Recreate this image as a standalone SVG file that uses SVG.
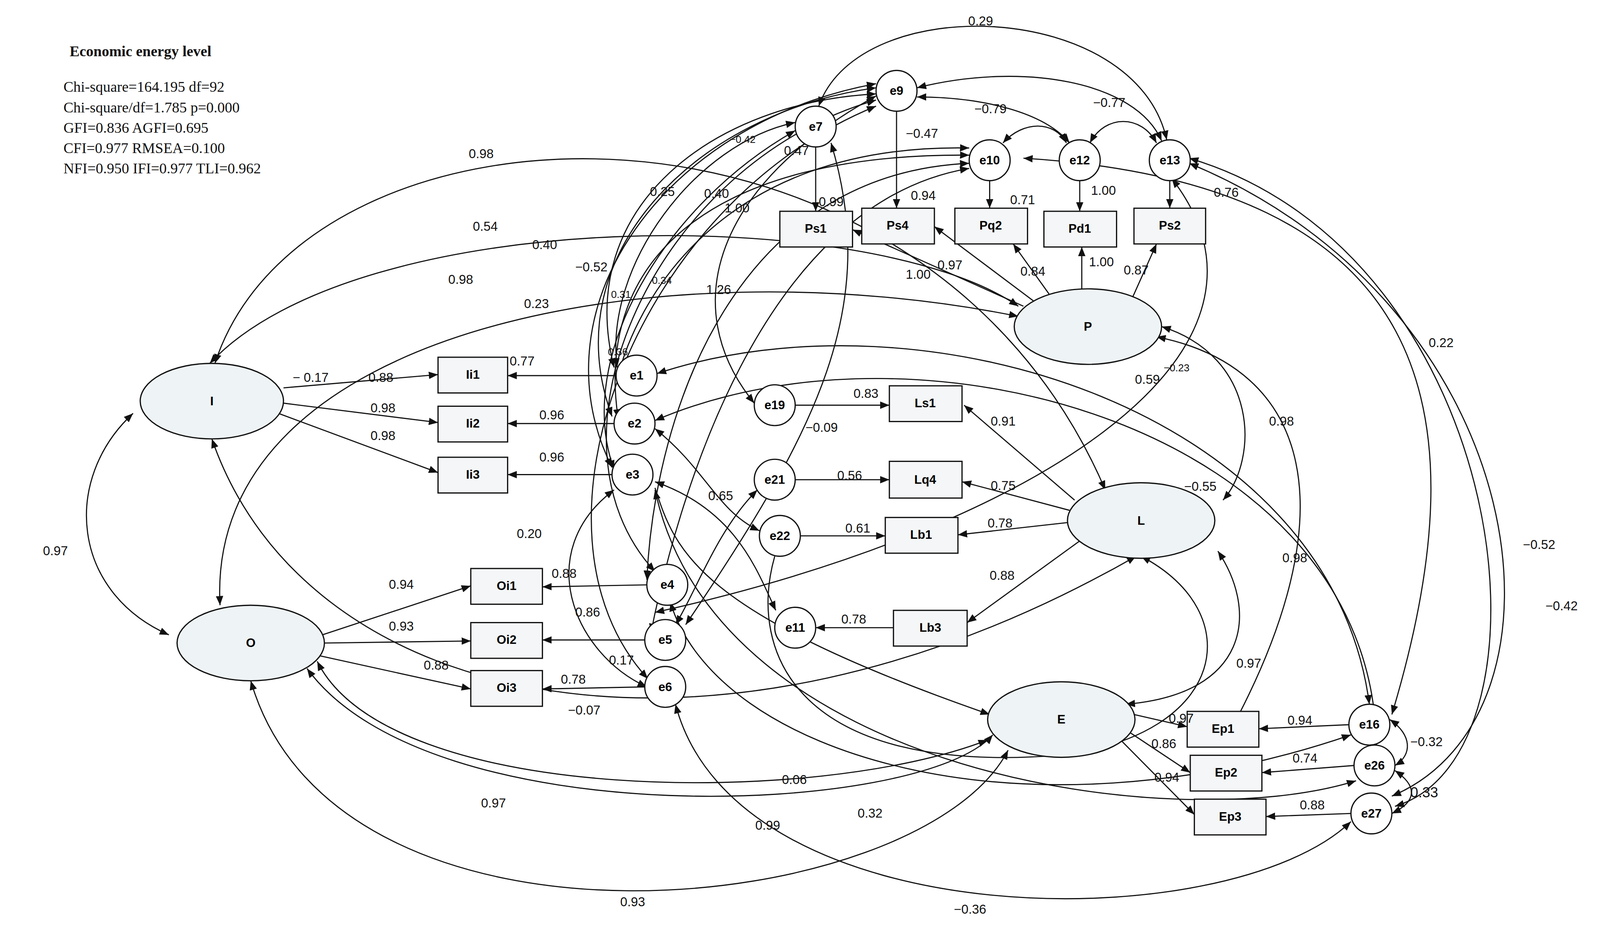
<svg xmlns="http://www.w3.org/2000/svg" width="4168" height="2410" viewBox="0 0 4168 2410">
<style>
.el{fill:#eef3f5;stroke:#111;stroke-width:1.2}
.bx{fill:#f4f6f7;stroke:#111;stroke-width:1.2}
.ci{fill:#fff;stroke:#111;stroke-width:1.2}
.lb{font-family:"Liberation Sans",Arial,sans-serif;font-size:12px;font-weight:bold;text-anchor:middle;dominant-baseline:central}
.n{font-family:"Liberation Sans",Arial,sans-serif;font-size:12.5px;fill:#111}
.h{font-family:"Liberation Serif",serif;font-size:14.5px;fill:#111}
#c path{fill:none;stroke:#111;stroke-width:1.1}
</style>
<defs><marker id="a" viewBox="0 0 10 10" refX="10" refY="5" markerWidth="9" markerHeight="9" markerUnits="userSpaceOnUse" orient="auto-start-reverse"><path d="M0,1 L10,5 L0,9z" fill="#111"/></marker></defs>
<rect width="4168" height="2410" fill="#fff"/>
<g transform="scale(2.62,2.614)">
<g id="stats">
<text class="h" x="68" y="55" font-weight="bold">Economic energy level</text>
<text class="h" x="62" y="90">Chi-square=164.195 df=92</text>
<text class="h" x="62" y="110">Chi-square/df=1.785  p=0.000</text>
<text class="h" x="62" y="130">GFI=0.836  AGFI=0.695</text>
<text class="h" x="62" y="150">CFI=0.977 RMSEA=0.100</text>
<text class="h" x="62" y="170">NFI=0.950 IFI=0.977 TLI=0.962</text>
</g>
<g id="c" marker-end="url(#a)">
<path d="M277,380 L428,367"/><path d="M277,395 L428,414"/><path d="M272,405 L428,463"/>
<path d="M315,622 L460,574"/><path d="M317,630 L460,628"/><path d="M310,642 L460,675"/>
<path d="M602,368 L496,368"/><path d="M600,415 L496,415"/><path d="M598,465 L496,465"/>
<path d="M632,573 L530,575"/><path d="M630,627 L530,627"/><path d="M630,673 L530,675"/>
<path d="M1000,300 L833,225"/><path d="M1010,295 L913,222"/><path d="M1025,288 L990,239"/><path d="M1057,283 L1057,242"/><path d="M1105,295 L1130,239"/>
<path d="M797,144 L797,207"/><path d="M876,109 L876,204"/><path d="M967,177 L967,204"/><path d="M1055,177 L1055,207"/><path d="M1143,177 L1143,204"/>
<path d="M1050,490 L942,397"/><path d="M1045,500 L940,472"/><path d="M1043,512 L936,524"/><path d="M1055,530 L945,610"/>
<path d="M777,397 L869,397"/><path d="M777,470 L869,470"/><path d="M782,525 L865,525"/><path d="M873,615 L797,615"/>
<path d="M1108,700 L1160,712"/><path d="M1100,715 L1163,757"/><path d="M1095,725 L1167,798"/>
<path d="M1318,710 L1230,714"/><path d="M1323,750 L1233,757"/><path d="M1320,797 L1237,800"/>
<path d="M130,405 C60,470 70,580 165,622" marker-start="url(#a)"/>
<path d="M800,104 C840,-10 1110,0 1140,137" marker-start="url(#a)"/>
<path d="M896,86 C1000,60 1110,80 1135,138" marker-start="url(#a)"/>
<path d="M896,95 C960,95 1020,110 1045,140" marker-start="url(#a)"/>
<path d="M980,140 C1000,118 1030,118 1042,140" marker-start="url(#a)"/>
<path d="M1065,140 C1080,112 1115,112 1130,140" marker-start="url(#a)"/>
<path d="M210,356 C300,80 900,60 1080,480" marker-start="url(#a)"/>
<path d="M205,356 C350,200 850,200 995,300" marker-start="url(#a)"/>
<path d="M215,593 C200,320 650,240 995,310" marker-start="url(#a)"/>
<path d="M207,430 C300,700 700,780 1110,545" marker-start="url(#a)"/>
<path d="M245,667 C330,960 900,900 985,735" marker-start="url(#a)"/>
<path d="M300,655 C420,820 900,800 970,720" marker-start="url(#a)"/>
<path d="M310,648 C380,790 800,790 965,725" marker-start="url(#a)"/>
<path d="M1130,330 C1280,360 1320,500 1200,720" marker-start="url(#a)"/>
<path d="M1135,320 C1230,350 1230,450 1195,490" marker-start="url(#a)"/>
<path d="M1190,540 C1230,600 1220,680 1100,690" marker-start="url(#a)"/>
<path d="M757,545 C730,640 780,760 1035,740 C1200,720 1220,600 1115,545"/>
<path d="M642,366 C900,280 1300,400 1338,690" marker-start="url(#a)"/>
<path d="M640,412 C900,300 1340,420 1345,730" marker-start="url(#a)"/>
<path d="M1162,160 C1500,300 1550,700 1360,780" marker-start="url(#a)"/>
<path d="M1162,155 C1480,250 1530,740 1363,790" marker-start="url(#a)"/>
<path d="M1145,175 C1280,350 1000,520 640,600" marker-start="url(#a)"/>
<path d="M1000,155 C1400,180 1450,400 1360,700" marker-start="url(#a)"/>
<path d="M1358,705 C1380,720 1380,740 1363,750" marker-start="url(#a)"/>
<path d="M1363,755 C1385,770 1385,785 1360,797" marker-start="url(#a)"/>
<path d="M660,690 C720,920 1200,920 1320,805" marker-start="url(#a)"/>
<path d="M640,480 C700,760 1150,820 1325,765" marker-start="url(#a)"/>
<path d="M655,590 C700,740 1000,830 1320,720" marker-start="url(#a)"/>
<path d="M856,92 C700,100 560,200 600,360" marker-start="url(#a)"/>
<path d="M856,86 C680,110 540,250 598,408" marker-start="url(#a)"/>
<path d="M856,82 C650,120 520,300 598,458" marker-start="url(#a)"/>
<path d="M856,98 C640,160 520,430 640,560" marker-start="url(#a)"/>
<path d="M856,104 C620,200 500,520 633,665" marker-start="url(#a)"/>
<path d="M777,120 C680,140 590,260 603,360" marker-start="url(#a)"/>
<path d="M777,128 C650,200 560,350 600,460" marker-start="url(#a)"/>
<path d="M947,152 C700,150 580,250 604,410" marker-start="url(#a)"/>
<path d="M947,160 C720,170 640,400 632,568" marker-start="url(#a)"/>
<path d="M947,165 C740,200 660,500 636,620" marker-start="url(#a)"/>
<path d="M947,145 C700,140 620,300 603,372" marker-start="url(#a)"/>
<path d="M856,94 C700,180 660,300 737,395" marker-start="url(#a)"/>
<path d="M812,140 C860,300 800,420 670,612" marker-start="url(#a)"/>
<path d="M640,420 C690,460 700,500 742,520" marker-start="url(#a)"/>
<path d="M640,472 C720,500 740,560 758,598" marker-start="url(#a)"/>
<path d="M740,480 C700,520 680,580 660,612" marker-start="url(#a)"/>
<path d="M600,480 C520,540 560,640 632,673" marker-start="url(#a)"/>
<path d="M640,478 C660,540 680,600 967,700"/>
</g>
<g id="nodes">
<g id="I"><ellipse class="el" cx="207" cy="393" rx="70" ry="37"/><text class="lb" x="207" y="393">I</text></g>
<g id="O"><ellipse class="el" cx="245" cy="630" rx="72" ry="37"/><text class="lb" x="245" y="630">O</text></g>
<g id="P"><ellipse class="el" cx="1063" cy="320" rx="72" ry="37"/><text class="lb" x="1063" y="320">P</text></g>
<g id="L"><ellipse class="el" cx="1115" cy="510" rx="72" ry="37"/><text class="lb" x="1115" y="510">L</text></g>
<g id="E"><ellipse class="el" cx="1037" cy="705" rx="72" ry="37"/><text class="lb" x="1037" y="705">E</text></g>
<g id="Ii1"><rect class="bx" x="428" y="350" width="68" height="35"/><text class="lb" x="462" y="367">Ii1</text></g>
<g id="Ii2"><rect class="bx" x="428" y="398" width="68" height="35"/><text class="lb" x="462" y="415">Ii2</text></g>
<g id="Ii3"><rect class="bx" x="428" y="448" width="68" height="35"/><text class="lb" x="462" y="465">Ii3</text></g>
<g id="Oi1"><rect class="bx" x="460" y="557" width="70" height="35"/><text class="lb" x="495" y="574">Oi1</text></g>
<g id="Oi2"><rect class="bx" x="460" y="610" width="70" height="35"/><text class="lb" x="495" y="627">Oi2</text></g>
<g id="Oi3"><rect class="bx" x="460" y="657" width="70" height="35"/><text class="lb" x="495" y="674">Oi3</text></g>
<g id="Ps1"><rect class="bx" x="762" y="207" width="71" height="35"/><text class="lb" x="797" y="224">Ps1</text></g>
<g id="Ps4"><rect class="bx" x="842" y="204" width="71" height="35"/><text class="lb" x="877" y="221">Ps4</text></g>
<g id="Pq2"><rect class="bx" x="933" y="204" width="71" height="35"/><text class="lb" x="968" y="221">Pq2</text></g>
<g id="Pd1"><rect class="bx" x="1020" y="207" width="71" height="35"/><text class="lb" x="1055" y="224">Pd1</text></g>
<g id="Ps2"><rect class="bx" x="1108" y="204" width="70" height="35"/><text class="lb" x="1143" y="221">Ps2</text></g>
<g id="Ls1"><rect class="bx" x="869" y="378" width="71" height="35"/><text class="lb" x="904" y="395">Ls1</text></g>
<g id="Lq4"><rect class="bx" x="869" y="452" width="71" height="36"/><text class="lb" x="904" y="470">Lq4</text></g>
<g id="Lb1"><rect class="bx" x="865" y="507" width="71" height="35"/><text class="lb" x="900" y="524">Lb1</text></g>
<g id="Lb3"><rect class="bx" x="873" y="598" width="72" height="35"/><text class="lb" x="909" y="615">Lb3</text></g>
<g id="Ep1"><rect class="bx" x="1160" y="697" width="70" height="35"/><text class="lb" x="1195" y="714">Ep1</text></g>
<g id="Ep2"><rect class="bx" x="1163" y="740" width="70" height="35"/><text class="lb" x="1198" y="757">Ep2</text></g>
<g id="Ep3"><rect class="bx" x="1167" y="783" width="70" height="35"/><text class="lb" x="1202" y="800">Ep3</text></g>
<g id="e1"><circle class="ci" cx="622" cy="368" r="20"/><text class="lb" x="622" y="368">e1</text></g>
<g id="e2"><circle class="ci" cx="620" cy="415" r="20"/><text class="lb" x="620" y="415">e2</text></g>
<g id="e3"><circle class="ci" cx="618" cy="465" r="20"/><text class="lb" x="618" y="465">e3</text></g>
<g id="e4"><circle class="ci" cx="652" cy="573" r="20"/><text class="lb" x="652" y="573">e4</text></g>
<g id="e5"><circle class="ci" cx="650" cy="627" r="20"/><text class="lb" x="650" y="627">e5</text></g>
<g id="e6"><circle class="ci" cx="650" cy="673" r="20"/><text class="lb" x="650" y="673">e6</text></g>
<g id="e7"><circle class="ci" cx="797" cy="124" r="20"/><text class="lb" x="797" y="124">e7</text></g>
<g id="e9"><circle class="ci" cx="876" cy="89" r="20"/><text class="lb" x="876" y="89">e9</text></g>
<g id="e10"><circle class="ci" cx="967" cy="157" r="20"/><text class="lb" x="967" y="157">e10</text></g>
<g id="e12"><circle class="ci" cx="1055" cy="157" r="20"/><text class="lb" x="1055" y="157">e12</text></g>
<g id="e13"><circle class="ci" cx="1143" cy="157" r="20"/><text class="lb" x="1143" y="157">e13</text></g>
<g id="e19"><circle class="ci" cx="757" cy="397" r="20"/><text class="lb" x="757" y="397">e19</text></g>
<g id="e21"><circle class="ci" cx="757" cy="470" r="20"/><text class="lb" x="757" y="470">e21</text></g>
<g id="e22"><circle class="ci" cx="762" cy="525" r="20"/><text class="lb" x="762" y="525">e22</text></g>
<g id="e11"><circle class="ci" cx="777" cy="615" r="20"/><text class="lb" x="777" y="615">e11</text></g>
<g id="e16"><circle class="ci" cx="1338" cy="710" r="20"/><text class="lb" x="1338" y="710">e16</text></g>
<g id="e26"><circle class="ci" cx="1343" cy="750" r="20"/><text class="lb" x="1343" y="750">e26</text></g>
<g id="e27"><circle class="ci" cx="1340" cy="797" r="20"/><text class="lb" x="1340" y="797">e27</text></g>
</g>
<g id="labels" class="n">
<text x="946" y="25">0.29</text><text x="1068" y="105">−0.77</text><text x="952" y="111">−0.79</text>
<text x="885" y="135">−0.47</text><text x="713" y="140" font-size="10">−0.42</text><text x="766" y="152">0.47</text>
<text x="458" y="155">0.98</text><text x="635" y="192">0.25</text><text x="688" y="194">0.40</text><text x="708" y="208">1.00</text>
<text x="800" y="202">0.99</text><text x="890" y="196">0.94</text><text x="987" y="200">0.71</text><text x="1066" y="191">1.00</text><text x="1186" y="193">0.76</text>
<text x="462" y="226">0.54</text><text x="520" y="244">0.40</text><text x="562" y="266">−0.52</text><text x="438" y="278">0.98</text>
<text x="597" y="292" font-size="10">0.31</text><text x="637" y="278" font-size="10">0.34</text><text x="512" y="302">0.23</text>
<text x="690" y="288">1.26</text><text x="885" y="273">1.00</text><text x="916" y="264">0.97</text><text x="997" y="270">0.84</text>
<text x="1064" y="261">1.00</text><text x="1098" y="269">0.87</text><text x="1396" y="340">0.22</text>
<text x="286" y="374">− 0.17</text><text x="360" y="374">0.88</text><text x="498" y="358">0.77</text><text x="594" y="348" font-size="10">0.36</text>
<text x="1137" y="364" font-size="10">−0.23</text><text x="1109" y="376">0.59</text>
<text x="362" y="404">0.98</text><text x="527" y="411">0.96</text><text x="834" y="390">0.83</text><text x="968" y="417">0.91</text>
<text x="787" y="423">−0.09</text><text x="1240" y="417">0.98</text>
<text x="362" y="431">0.98</text><text x="527" y="452">0.96</text><text x="818" y="470">0.56</text><text x="968" y="480">0.75</text>
<text x="1157" y="481">−0.55</text><text x="692" y="490">0.65</text><text x="965" y="517">0.78</text><text x="826" y="522">0.61</text>
<text x="505" y="527">0.20</text><text x="42" y="544">0.97</text><text x="1253" y="551">0.98</text><text x="1488" y="538">−0.52</text>
<text x="539" y="566">0.88</text><text x="380" y="577">0.94</text><text x="967" y="568">0.88</text><text x="1510" y="598">−0.42</text>
<text x="562" y="604">0.86</text><text x="822" y="611">0.78</text><text x="380" y="618">0.93</text>
<text x="414" y="656">0.88</text><text x="595" y="651">0.17</text><text x="548" y="670">0.78</text><text x="1208" y="654">0.97</text>
<text x="555" y="700">−0.07</text><text x="1142" y="708">0.97</text><text x="1258" y="710">0.94</text><text x="1378" y="731">−0.32</text>
<text x="1125" y="733">0.86</text><text x="1263" y="747">0.74</text><text x="1128" y="766">0.94</text><text x="764" y="768">0.06</text>
<text x="1378" y="781" font-size="14">0.33</text><text x="1270" y="793">0.88</text><text x="470" y="791">0.97</text>
<text x="838" y="801">0.32</text><text x="738" y="813">0.99</text><text x="606" y="888">0.93</text><text x="932" y="895">−0.36</text>
</g>
</g>
</svg>
